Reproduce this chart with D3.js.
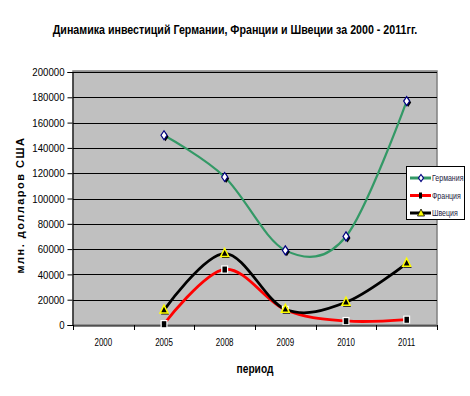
<!DOCTYPE html>
<html>
<head>
<meta charset="utf-8">
<script src="https://cdn.jsdelivr.net/npm/d3@7"></script>
<style>
  body { margin: 0; background: #fff; }
  svg { display: block; }
  text { font-family: "Liberation Sans", Arial, sans-serif; }
</style>
</head>
<body>
<svg id="chart" width="470" height="396"></svg>
<script>
let width = 470, height = 396;

// data
let periods = ["2000", "2005", "2008", "2009", "2010", "2011"];
let germany = [null, 150000, 117000, 59000, 70000, 177000];
let france = [null, 800, 44000, 12000, 3200, 4300];
let sweden = [null, 11800, 56500, 12400, 18000, 48800];
let yTicks = [0, 20000, 40000, 60000, 80000, 100000, 120000, 140000, 160000, 180000, 200000];
let seriesNames = ["Германия", "Франция", "Швеция"];

let plot = {left: 73, right: 437, top: 71, bottom: 325};

var svg = d3.select('#chart');

// narrow the text horizontally (the original uses a condensed font)
function squeeze(sel, f) {
    sel.each(function() {
        var t = d3.select(this);
        var tx = +t.attr('x') || 0, ty = +t.attr('y') || 0;
        var old = t.attr('transform') || '';
        t.attr('x', 0).attr('y', 0)
         .attr('transform', old + ' translate(' + tx + ',' + ty + ') scale(' + f + ',1)');
    });
}

var x = d3.scaleBand()
    .domain(periods)
    .range([plot.left, plot.right]);

var y = d3.scaleLinear()
    .domain([0, 200000])
    .range([plot.bottom, plot.top + 1]);

// plot background
svg.append('rect')
    .attr('x', plot.left)
    .attr('y', plot.top)
    .attr('width', plot.right - plot.left)
    .attr('height', plot.bottom - plot.top)
    .attr('fill', '#c0c0c0')
    .attr('stroke', '#808080')
    .attr('stroke-width', 1.5);

// gridlines
svg.append('g')
    .selectAll('line')
    .data(yTicks.filter(d => d > 0))
    .enter().append('line')
    .attr('x1', plot.left)
    .attr('x2', plot.right)
    .attr('y1', d => Math.round(y(d)) + 0.5)
    .attr('y2', d => Math.round(y(d)) + 0.5)
    .attr('stroke', '#000')
    .attr('stroke-width', 1);

// y axis
var yAxis = svg.append('g')
    .attr('transform', 'translate(' + (plot.left - 0.5) + ',0)')
    .call(d3.axisLeft(y).tickValues(yTicks).tickSize(5).tickPadding(3).tickFormat(d3.format('d')));
yAxis.select('.domain').attr('stroke', '#000');
yAxis.selectAll('text').attr('font-size', 11.5).attr('fill', '#000').call(squeeze, 0.84);

// x axis
var xAxis = svg.append('g')
    .attr('transform', 'translate(0,' + (plot.bottom + 0.5) + ')')
    .call(d3.axisBottom(x).tickSize(0).tickPadding(13));
xAxis.select('.domain').attr('stroke', '#000');
xAxis.selectAll('text').attr('font-size', 10.5).attr('fill', '#000').call(squeeze, 0.76);

// category boundary ticks
svg.append('g')
    .selectAll('line')
    .data(periods.concat(['end']))
    .enter().append('line')
    .attr('x1', (d, i) => Math.round(plot.left + i * x.bandwidth()) + 0.5)
    .attr('x2', (d, i) => Math.round(plot.left + i * x.bandwidth()) + 0.5)
    .attr('y1', plot.bottom)
    .attr('y2', plot.bottom + 5)
    .attr('stroke', '#000');

// series lines
var line = d3.line()
    .defined(d => d.v !== null)
    .x(d => x(d.p) + x.bandwidth() / 2)
    .y(d => y(d.v))
    .curve(d3.curveCardinal.tension(0));

function pts(values) {
    return periods.map((p, i) => ({p: p, v: values[i]})).filter(d => d.v !== null);
}

var series = [
    {name: seriesNames[0], values: germany, color: '#339966', w: 2.2, marker: 'diamond'},
    {name: seriesNames[1], values: france, color: '#ff0000', w: 2.8, marker: 'square'},
    {name: seriesNames[2], values: sweden, color: '#000000', w: 2.8, marker: 'triangle'}
];

series.forEach(function(s) {
    svg.append('path')
        .attr('d', line(pts(s.values)))
        .attr('fill', 'none')
        .attr('stroke', s.color)
        .attr('stroke-width', s.w);
});

function drawMarker(g, type, cx, cy) {
    if (type === 'diamond') {
        var p = 'M0,-4.5L3,0L0,4.5L-3,0Z';
        g.append('path').attr('d', p).attr('transform', 'translate(' + (cx + 1.5) + ',' + (cy + 1.5) + ')')
            .attr('fill', '#000');
        g.append('path').attr('d', p).attr('transform', 'translate(' + cx + ',' + cy + ')')
            .attr('fill', '#fff').attr('stroke', '#000080').attr('stroke-width', 1.2);
    } else if (type === 'square') {
        g.append('rect').attr('x', cx - 3.5).attr('y', cy - 4)
            .attr('width', 7).attr('height', 8)
            .attr('fill', '#fff');
        g.append('rect').attr('x', cx - 2.2).attr('y', cy - 2.8)
            .attr('width', 4.5).attr('height', 6)
            .attr('fill', '#000');
    } else {
        var t = 'M0,-5L4,3L-4,3Z';
        g.append('path').attr('d', t).attr('transform', 'translate(' + (cx + 1) + ',' + (cy + 1.5) + ')')
            .attr('fill', '#000');
        g.append('path').attr('d', t).attr('transform', 'translate(' + cx + ',' + cy + ')')
            .attr('fill', '#000').attr('stroke', '#ffff00').attr('stroke-width', 1.5);
    }
}

var markers = svg.append('g');
series.forEach(function(s) {
    pts(s.values).forEach(function(d) {
        drawMarker(markers, s.marker, x(d.p) + x.bandwidth() / 2, y(d.v));
    });
});

// legend
var legend = svg.append('g');
legend.append('rect')
    .attr('x', 406.5).attr('y', 166.5)
    .attr('width', 58).attr('height', 53)
    .attr('fill', '#fff').attr('stroke', '#000').attr('stroke-width', 1);

series.forEach(function(s, i) {
    var ly = 178 + i * 17.5;
    legend.append('line')
        .attr('x1', 410).attr('x2', 431)
        .attr('y1', ly).attr('y2', ly)
        .attr('stroke', s.color).attr('stroke-width', 3);
    if (s.marker === 'diamond') {
        legend.append('path').attr('d', 'M0,-3.5L2.5,0L0,3.5L-2.5,0Z')
            .attr('transform', 'translate(421,' + ly + ')')
            .attr('fill', '#fff').attr('stroke', '#000080').attr('stroke-width', 1.2);
    } else if (s.marker === 'square') {
        legend.append('rect').attr('x', 419).attr('y', ly - 3).attr('width', 3).attr('height', 6).attr('fill', '#000');
    } else {
        legend.append('path').attr('d', 'M0,-4L3.5,3L-3.5,3Z')
            .attr('transform', 'translate(421,' + ly + ')')
            .attr('fill', '#ffff00').attr('stroke', '#000').attr('stroke-width', 0.8);
    }
    legend.append('text')
        .attr('x', 432).attr('y', ly + 3)
        .attr('font-size', 9)
        .attr('fill', '#1a1a40')
        .text(s.name)
        .call(squeeze, 0.78);
});

// title
svg.append('text')
    .attr('x', 235).attr('y', 34)
    .attr('text-anchor', 'middle')
    .attr('font-size', 13)
    .attr('font-weight', 'bold')
    .text('Динамика инвестиций Германии, Франции и Швеции за 2000 - 2011гг.')
    .call(function(t) {
        var w = t.node().getComputedTextLength();
        squeeze(t, 365 / w);
    });

// axis titles
svg.append('text')
    .attr('transform', 'translate(24,205) rotate(-90)')
    .attr('text-anchor', 'middle')
    .attr('font-size', 11)
    .attr('font-weight', 'bold')
    .attr('letter-spacing', 1.5)
    .text('млн. долларов США');

svg.append('text')
    .attr('x', 255).attr('y', 373)
    .attr('text-anchor', 'middle')
    .attr('font-size', 12)
    .attr('font-weight', 'bold')
    .text('период')
    .call(squeeze, 0.85);
</script>
</body>
</html>
